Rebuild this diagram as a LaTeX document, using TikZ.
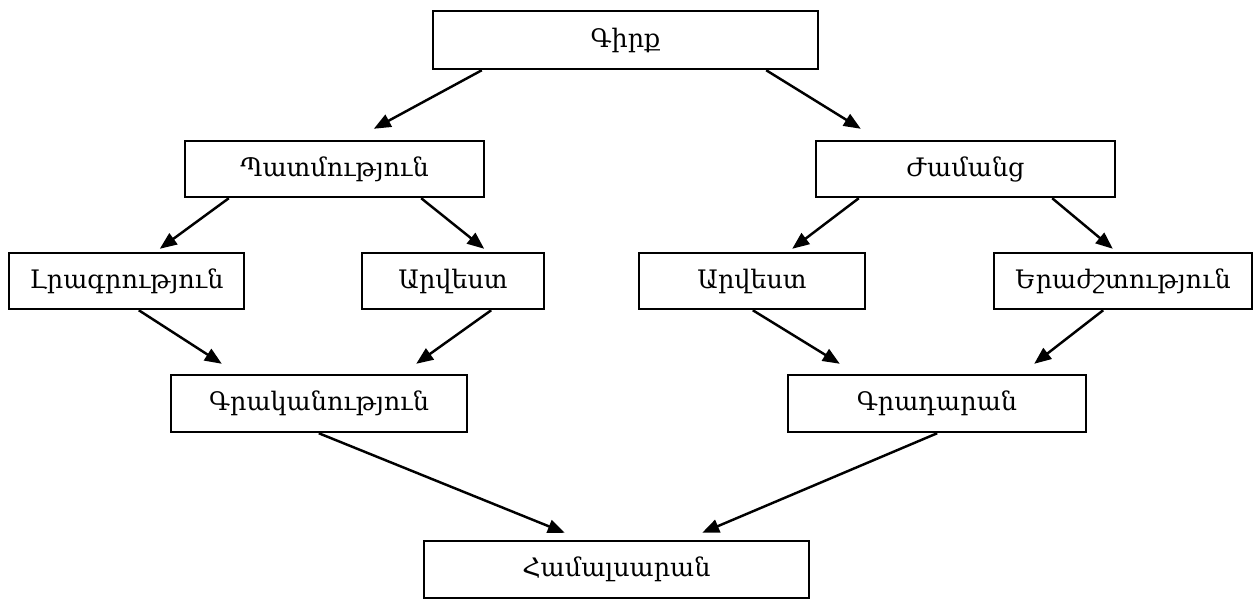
\documentclass[tikz,border=0pt]{standalone}
\usepackage{fontspec}
\setmainfont{DejaVu Serif}
\usetikzlibrary{arrows.meta}

\begin{document}
\begin{tikzpicture}[x=0.02cm, y=-0.02cm,
  box/.style={draw, line width=1.4pt, minimum height=1.12cm, inner sep=0pt,
    font=\fontsize{14.5}{17}\selectfont},
  link/.style={-{Triangle[length=0.34cm, width=0.27cm]}, line width=1.4pt}]
\useasboundingbox (0,0) rectangle (1255,599);
% top
\node[box, minimum width=7.7cm, minimum height=1.16cm] (book) at (625.5,40) {Գիրք};
% second row
\node[box, minimum width=5.98cm] (history) at (334.5,169) {Պատմություն};
\node[box, minimum width=5.98cm] (leisure) at (965.5,169) {Ժամանց};
% third row
\node[box, minimum width=4.7cm]  (journalism) at (126.5,281) {Լրագրություն};
\node[box, minimum width=3.64cm] (art-l)      at (453,281)   {Արվեստ};
\node[box, minimum width=4.52cm] (art-r)      at (752,281)   {Արվեստ};
\node[box, minimum width=5.16cm] (music)      at (1123,281)  {Երաժշտություն};
% fourth row
\node[box, minimum width=5.92cm, minimum height=1.14cm] (literature) at (319,403.5) {Գրականություն};
\node[box, minimum width=5.96cm, minimum height=1.14cm] (library)    at (937,403.5) {Գրադարան};
% bottom
\node[box, minimum width=7.7cm, minimum height=1.14cm] (university) at (616.5,569.5) {Համալսարան};

\draw[link] ([shift={(50,0)}]book.south west)   -- ([shift={(190,-11)}]history.north west);
\draw[link] ([shift={(-53,0)}]book.south east)  -- ([shift={(46,-11)}]leisure.north west);
\draw[link] ([shift={(45,0)}]history.south west)  -- ([shift={(152,-3)}]journalism.north west);
\draw[link] ([shift={(-64,0)}]history.south east) -- ([shift={(-61,-3)}]art-l.north east);
\draw[link] ([shift={(44,0)}]leisure.south west)  -- ([shift={(-74,-3)}]art-r.north east);
\draw[link] ([shift={(-64,0)}]leisure.south east) -- ([shift={(120,-3)}]music.north west);
\draw[link] ([shift={(131,0)}]journalism.south west) -- ([shift={(52,-10)}]literature.north west);
\draw[link] ([shift={(-54,0)}]art-l.south east)      -- ([shift={(-52,-10)}]literature.north east);
\draw[link] ([shift={(115,0)}]art-r.south west)      -- ([shift={(53,-10)}]library.north west);
\draw[link] ([shift={(-150,0)}]music.south east)     -- ([shift={(-53,-10)}]library.north east);
\draw[link] ([shift={(149,0)}]literature.south west) -- ([shift={(142,-7)}]university.north west);
\draw[link] ([shift={(-150,0)}]library.south east)   -- ([shift={(-108,-7)}]university.north east);
\end{tikzpicture}
\end{document}
